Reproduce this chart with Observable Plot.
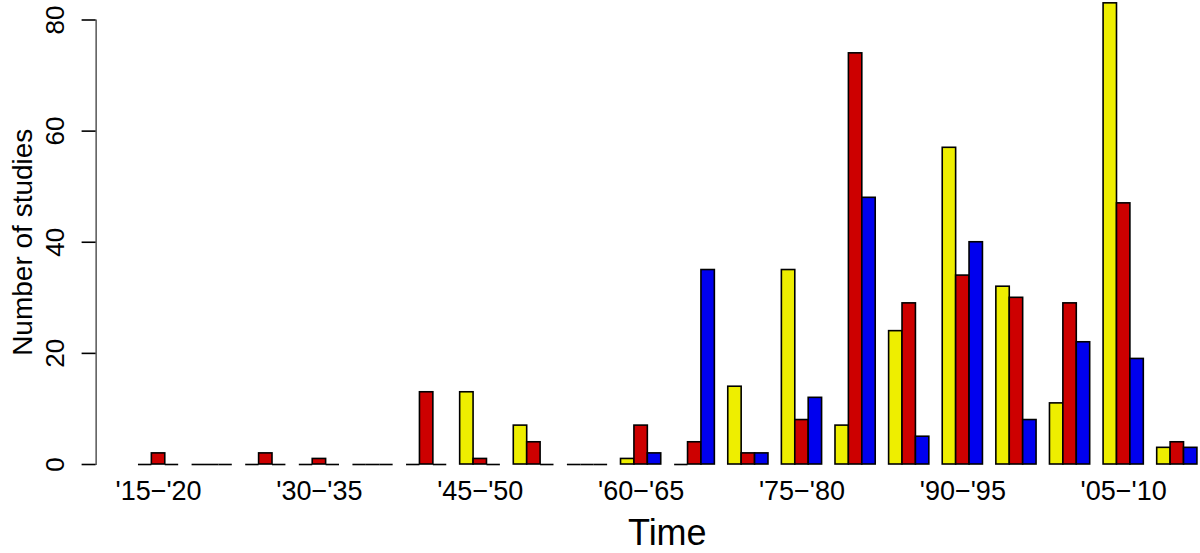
<!DOCTYPE html>
<html>
<head>
<meta charset="utf-8">
<script src="https://cdn.jsdelivr.net/npm/d3@7"></script>
<script src="https://cdn.jsdelivr.net/npm/@observablehq/plot@0.6"></script>
<style>
  html, body { margin: 0; padding: 0; background: #fff; }
  #chart svg { display: block; overflow: visible; }
  #chart svg [aria-label="y-axis tick"], #chart svg [aria-label="y-axis line"] { stroke-width: 1.6px; stroke: #000; }
</style>
</head>
<body>
<div id="chart"></div>
<script>
// ---- data ----
const periods = ["'15\u2212'20","'20\u2212'25","'25\u2212'30","'30\u2212'35","'35\u2212'40","'40\u2212'45","'45\u2212'50","'50\u2212'55","'55\u2212'60","'60\u2212'65","'65\u2212'70","'70\u2212'75","'75\u2212'80","'80\u2212'85","'85\u2212'90","'90\u2212'95","'95\u2212'00","'00\u2212'05","'05\u2212'10","'10\u2212'15"];
const seriesNames = ["Series 1", "Series 2", "Series 3"];
const seriesColors = ["#EEEE00", "#CD0000", "#0000EE"];
const yellowValues = [0,0,0,0,0,0,13,7,0,1,0,14,35,7,24,57,32,11,83,3];
const redValues    = [2,0,2,1,0,13,1,4,0,7,4,2,8,74,29,34,30,29,47,4];
const blueValues   = [0,0,0,0,0,0,0,0,0,2,35,2,12,48,5,40,8,22,19,3];
const shownLabels = ["'15\u2212'20","'30\u2212'35","'45\u2212'50","'60\u2212'65","'75\u2212'80","'90\u2212'95","'05\u2212'10"];
const yTicks = [0, 20, 40, 60, 80];
const xTitle = "Time";
const yTitle = "Number of studies";

// ---- table ----
const seriesValues = [yellowValues, redValues, blueValues];
const rows = [];
periods.forEach((p, pi) => {
  seriesValues.forEach((vals, si) => {
    rows.push({period: p, pi, series: seriesNames[si], si, value: vals[pi]});
  });
});
// R barplot(beside=TRUE) slot layout: each group = 1 gap + 3 bars
const left = d => d.pi * 4 + d.si + 1;
const right = d => d.pi * 4 + d.si + 2;
const groupCenter = p => periods.indexOf(p) * 4 + 2.5;

const font = "'Liberation Sans', Arial, Helvetica, sans-serif";

const chart = Plot.plot({
  width: 1200,
  height: 553,
  marginLeft: 95.6,
  marginRight: 0,
  marginTop: 19.5,
  marginBottom: 89,
  style: {fontFamily: font, fontSize: "27px", color: "#000", background: "#fff", overflow: "visible"},
  x: {
    domain: [-2.16, 80.23],
    ticks: shownLabels.map(groupCenter),
    tickFormat: v => periods[Math.round((v - 2.5) / 4)],
    tickSize: 0,
    tickPadding: 16,
    label: null
  },
  y: {
    domain: [0, 80],
    ticks: yTicks,
    tickSize: 14,
    tickFormat: () => "",
    line: true,
    label: null
  },
  color: {domain: seriesNames, range: seriesColors},
  marks: [
    Plot.rectY(rows, {
      x1: left, x2: right, y: "value", fill: "series",
      stroke: "#000", strokeWidth: 1.6
    }),
    Plot.ruleY(rows.filter(d => d.value === 0), {
      x1: left, x2: right, y: "value", stroke: "#000", strokeWidth: 1.6
    }),
    Plot.text(yTicks, {
      y: d => d, text: d => String(d), frameAnchor: "left",
      dx: -40, rotate: -90, textAnchor: "middle", lineAnchor: "middle",
      fontSize: 26, fill: "#000"
    }),
    Plot.text([yTitle], {
      text: d => d, frameAnchor: "left", dx: -73, rotate: -90,
      textAnchor: "middle", lineAnchor: "middle", fontSize: 28, fill: "#000"
    }),
    Plot.text([xTitle], {
      text: d => d, frameAnchor: "bottom", dx: 19, dy: 55,
      textAnchor: "middle", lineAnchor: "top", fontSize: 36, fill: "#000"
    })
  ]
});
document.getElementById("chart").appendChild(chart);
</script>
</body>
</html>
